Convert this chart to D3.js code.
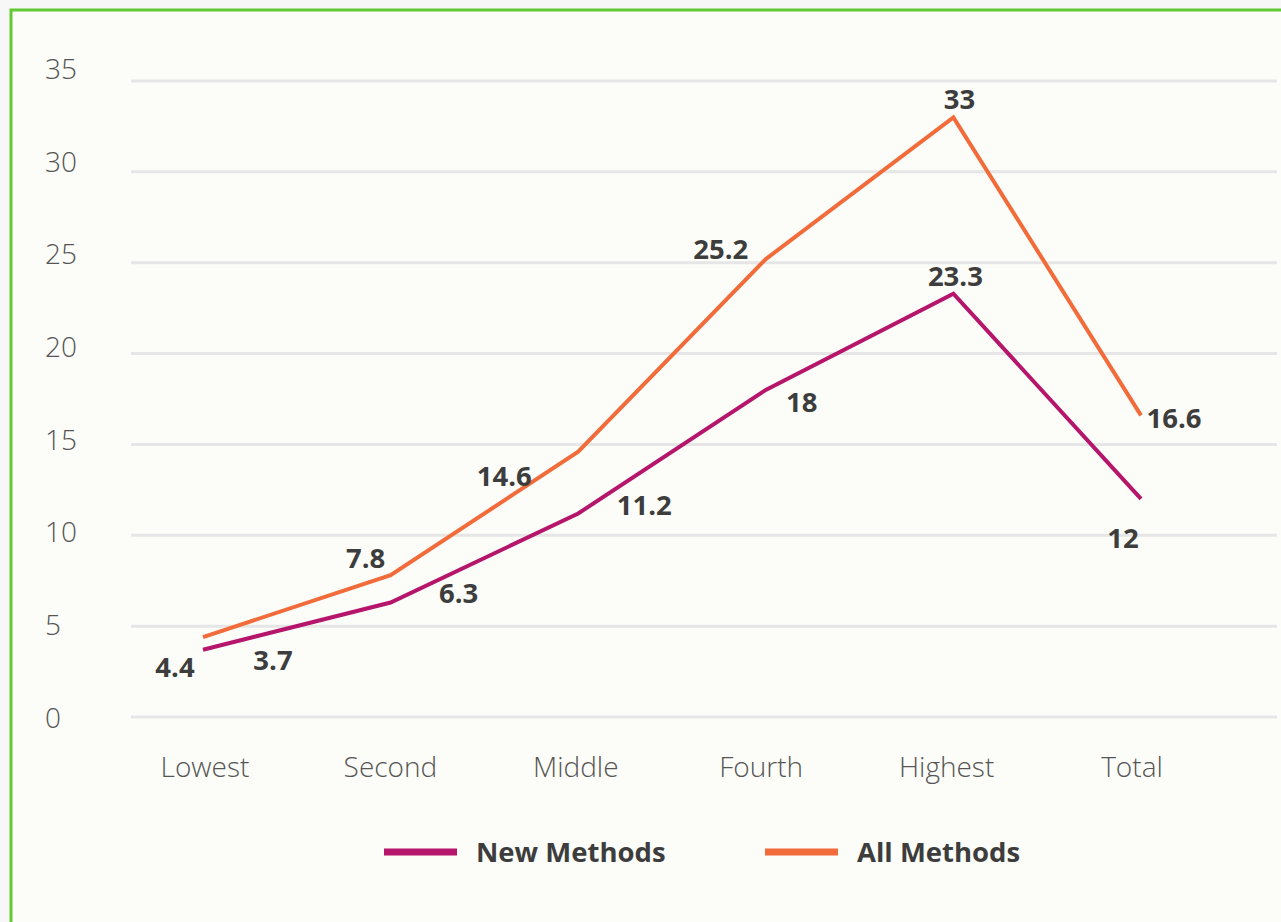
<!DOCTYPE html>
<html>
<head>
<meta charset="utf-8">
<script src="https://cdn.jsdelivr.net/npm/d3@7/dist/d3.min.js"></script>
<style>
  html, body { margin: 0; padding: 0; background: #f7f7f7; }
  svg { display: block; }
</style>
</head>
<body>
<svg id="chart" width="1281" height="922"></svg>
<script>
// Wealth quintiles and the share of each group using contraception methods
const categories = ["Lowest", "Second", "Middle", "Fourth", "Highest", "Total"];
const newMethods = [3.7, 6.3, 11.2, 18, 23.3, 12];
const allMethods = [4.4, 7.8, 14.6, 25.2, 33, 16.6];
const yTicks = [0, 5, 10, 15, 20, 25, 30, 35];
const seriesNames = ["New Methods", "All Methods"];

// Label placement relative to each point (dx, dy in px)
const newLabelOffsets = [[70, 11], [68, -9], [66, -8], [36, 12], [2, -17], [-18, 39]];
const allLabelOffsets = [[-28, 30], [-25, -17], [-74, 25], [-45, -10], [6, -18], [33, 3]];

const colors = { "New Methods": "#b5156b", "All Methods": "#f26b3a" };

const svg = d3.select("#chart");

// Panel with green frame
svg.append("rect")
  .attr("x", 11).attr("y", 10)
  .attr("width", 1290).attr("height", 940)
  .attr("fill", "#fcfdf8")
  .attr("stroke", "#62c932")
  .attr("stroke-width", 3);

const x = d3.scalePoint().domain(categories).range([203, 1141]);
const y = d3.scaleLinear().domain([0, 35]).range([717, 81]);
const yLab = d3.scaleLinear().domain([0, 35]).range([718, 69]);

// Gridlines
svg.append("g").selectAll("line").data(yTicks).join("line")
  .attr("x1", 131).attr("x2", 1277)
  .attr("y1", d => y(d)).attr("y2", d => y(d))
  .attr("stroke", "#e6e6e6").attr("stroke-width", 3);

// Y tick labels
svg.append("g").selectAll("text").data(yTicks).join("text")
  .attr("x", 45).attr("y", d => yLab(d))
  .attr("dy", "0.35em")
  .attr("font-family", "'Open Sans', sans-serif")
  .attr("font-weight", 300)
  .attr("font-size", 28)
  .attr("fill", "#555")
  .text(d => d);

// Category labels
const xLabelPos = d3.scalePoint().domain(categories).range([205, 1132]);
svg.append("g").selectAll("text").data(categories).join("text")
  .attr("x", d => xLabelPos(d)).attr("y", 767)
  .attr("dy", "0.35em")
  .attr("text-anchor", "middle")
  .attr("font-family", "'Open Sans', sans-serif")
  .attr("font-weight", 300)
  .attr("font-size", 28)
  .attr("fill", "#555")
  .text(d => d);

const line = d3.line().x(d => x(d.cat)).y(d => y(d.v));

function drawSeries(name, values, offsets) {
  const pts = values.map((v, i) => ({ cat: categories[i], v, off: offsets[i] }));
  svg.append("path").datum(pts)
    .attr("d", line)
    .attr("fill", "none")
    .attr("stroke", colors[name])
    .attr("stroke-width", 4)
    .attr("stroke-linejoin", "miter");
  svg.append("g").selectAll("text").data(pts).join("text")
    .attr("x", d => x(d.cat) + d.off[0])
    .attr("y", d => y(d.v) + d.off[1])
    .attr("dy", "0.35em")
    .attr("text-anchor", "middle")
    .attr("font-family", "'Open Sans', sans-serif")
    .attr("font-weight", 700)
    .attr("font-size", 27.5)
    .attr("fill", "#3d3d3d")
    .text(d => d.v);
}

drawSeries("All Methods", allMethods, allLabelOffsets);
drawSeries("New Methods", newMethods, newLabelOffsets);

// Legend
const legendX = [384, 765];
const legend = svg.append("g").selectAll("g").data(seriesNames).join("g")
  .attr("transform", (d, i) => `translate(${legendX[i]},852)`);
legend.append("rect")
  .attr("x", 0).attr("y", -3.5).attr("width", 73).attr("height", 7)
  .attr("fill", d => colors[d]);
legend.append("text")
  .attr("x", 92).attr("y", 0).attr("dy", "0.35em")
  .attr("font-family", "'Open Sans', sans-serif")
  .attr("font-weight", 700)
  .attr("font-size", 27.5)
  .attr("fill", "#3d3d3d")
  .text(d => d);
</script>
</body>
</html>
